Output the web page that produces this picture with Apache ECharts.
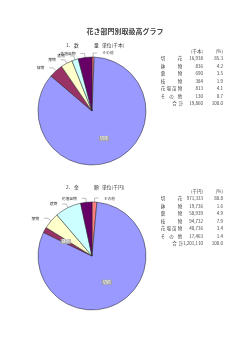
<!DOCTYPE html>
<html lang="ja">
<head>
    <meta charset="UTF-8">
    <title>花き部門別取扱高グラフ</title>
    <style>
        html, body { margin: 0; padding: 0; background: #fff; }
        #container { width: 250px; height: 353px; }
    </style>
</head>
<body>
<div id="container"></div>
<script src="https://cdn.jsdelivr.net/npm/echarts@6/dist/echarts.min.js"></script>
<script>
    // 部門（表の順）
    var names = ['切花', '鉢物', '葉物', '枝物', '花壇苗物', 'その他'];
    // 1. 数量 単位(千本)
    var qtyValues = [16938, 836, 690, 384, 813, 130];
    var qtyPct = [85.3, 4.2, 3.5, 1.9, 4.1, 0.7];
    var qtyTotal = 19860;
    // 2. 金額 単位(千円)
    var amtValues = [971333, 19736, 58939, 94732, 40736, 17463];
    var amtPct = [80.8, 1.6, 4.9, 7.9, 3.4, 1.4];
    var amtTotal = 1201110;

    var colors = {
        '切花': '#9999ff', '鉢物': '#993366', '葉物': '#ffffcc',
        '枝物': '#ccffff', '花壇苗物': '#660066', 'その他': '#ff8080'
    };
    // 円の並び（12時から時計回り）
    var pieOrder = [5, 0, 1, 2, 3, 4];

    var dom = document.getElementById('container');
    var myChart = echarts.init(dom, null, {renderer: 'canvas'});
    var FONT = '"Noto Sans CJK JP", sans-serif';

    // ラベル中心位置（引出し線つきのもの）
    var labelPos1 = {'その他': [83, 51], '花壇苗物': [58, 52], '枝物': [36, 53], '葉物': [46, 61], '鉢物': [39, 69]};
    var labelPos2 = {'その他': [89, 196], '花壇苗物': [54, 198], '枝物': [47, 206], '葉物': [37, 218]};
    var insideLabel = {position: 'inside', color: '#fff', backgroundColor: '#a0a0a0', padding: [1, 1, 0, 1], fontSize: 4};

    function pieData(values, insideNames) {
        return pieOrder.map(function (i) {
            var d = {name: names[i], value: values[i], itemStyle: {color: colors[names[i]]}};
            if (insideNames.indexOf(names[i]) >= 0) {
                d.label = insideLabel;
                d.labelLine = {show: false};
            }
            return d;
        });
    }

    function pieSeries(center, values, insideNames, pos) {
        return {
            type: 'pie',
            center: center,
            radius: 54,
            startAngle: 90,
            clockwise: true,
            avoidLabelOverlap: false,
            animation: false,
            silent: true,
            data: pieData(values, insideNames),
            itemStyle: {borderColor: '#222', borderWidth: 0.5},
            label: {show: true, fontSize: 3.8, color: '#333', fontFamily: FONT, position: 'outside'},
            labelLine: {show: true, length: 4, length2: 4, lineStyle: {color: '#555', width: 0.4}},
            labelLayout: function (params) {
                var p = pos[params.name];
                if (!p || insideNames.indexOf(params.name) >= 0) return {};
                var r = params.labelRect;
                return {dx: p[0] - (r.x + r.width / 2), dy: p[1] - (r.y + r.height / 2)};
            }
        };
    }

    function fmt(v) {
        return v.toLocaleString('en-US');
    }

    // 表
    function tableGraphics(y0, values, pct, total, unit) {
        var g = [];
        var step = 7.5;
        var txt = function (x, y, s, align) {
            g.push({type: 'text', x: x, y: y, style: {text: s, fill: '#444', font: '4.5px ' + FONT, align: align || 'center', verticalAlign: 'middle'}});
        };
        txt(203, y0, unit, 'right');
        txt(223, y0, '(%)', 'right');
        names.forEach(function (n, r) {
            var y = y0 + step * (r + 1);
            var chars = n.split('');
            for (var k = 0; k < chars.length; k++) {
                var x = 163 + (180 - 163) * k / (chars.length - 1);
                txt(x, y, chars[k]);
            }
            txt(203, y, fmt(values[r]), 'right');
            txt(223, y, pct[r].toFixed(1), 'right');
        });
        var yt = y0 + step * (names.length + 1);
        txt(174.5, yt, '合');
        txt(181, yt, '計');
        txt(203, yt, fmt(total), 'right');
        txt(223, yt, '100.0', 'right');
        return g;
    }

    function subTitle(y, no, a, b, unit) {
        var s = {fill: '#333', font: '4.8px ' + FONT, verticalAlign: 'middle'};
        return [
            {type: 'text', x: 66, y: y, style: Object.assign({text: no}, s)},
            {type: 'text', x: 74, y: y, style: Object.assign({text: a}, s)},
            {type: 'text', x: 94, y: y, style: Object.assign({text: b}, s)},
            {type: 'text', x: 102, y: y, style: Object.assign({text: unit}, s)}
        ];
    }

    var graphics = []
        .concat(subTitle(45, '1.', '数', '量', '単位(千本)'))
        .concat(subTitle(187, '2.', '金', '額', '単位(千円)'))
        .concat(tableGraphics(51, qtyValues, qtyPct, qtyTotal, '(千本)'))
        .concat(tableGraphics(191, amtValues, amtPct, amtTotal, '(千円)'));

    var option = {
        backgroundColor: '#fff',
        animation: false,
        title: {
            text: '花き部門別取扱高グラフ',
            left: 'center',
            top: 23,
            textStyle: {fontSize: 7, fontWeight: 'bold', color: '#444', fontFamily: FONT}
        },
        graphic: graphics,
        series: [
            pieSeries([92, 111], qtyValues, ['切花'], labelPos1),
            pieSeries([92, 256], amtValues, ['切花', '鉢物'], labelPos2)
        ]
    };

    myChart.setOption(option);
</script>
</body>
</html>
